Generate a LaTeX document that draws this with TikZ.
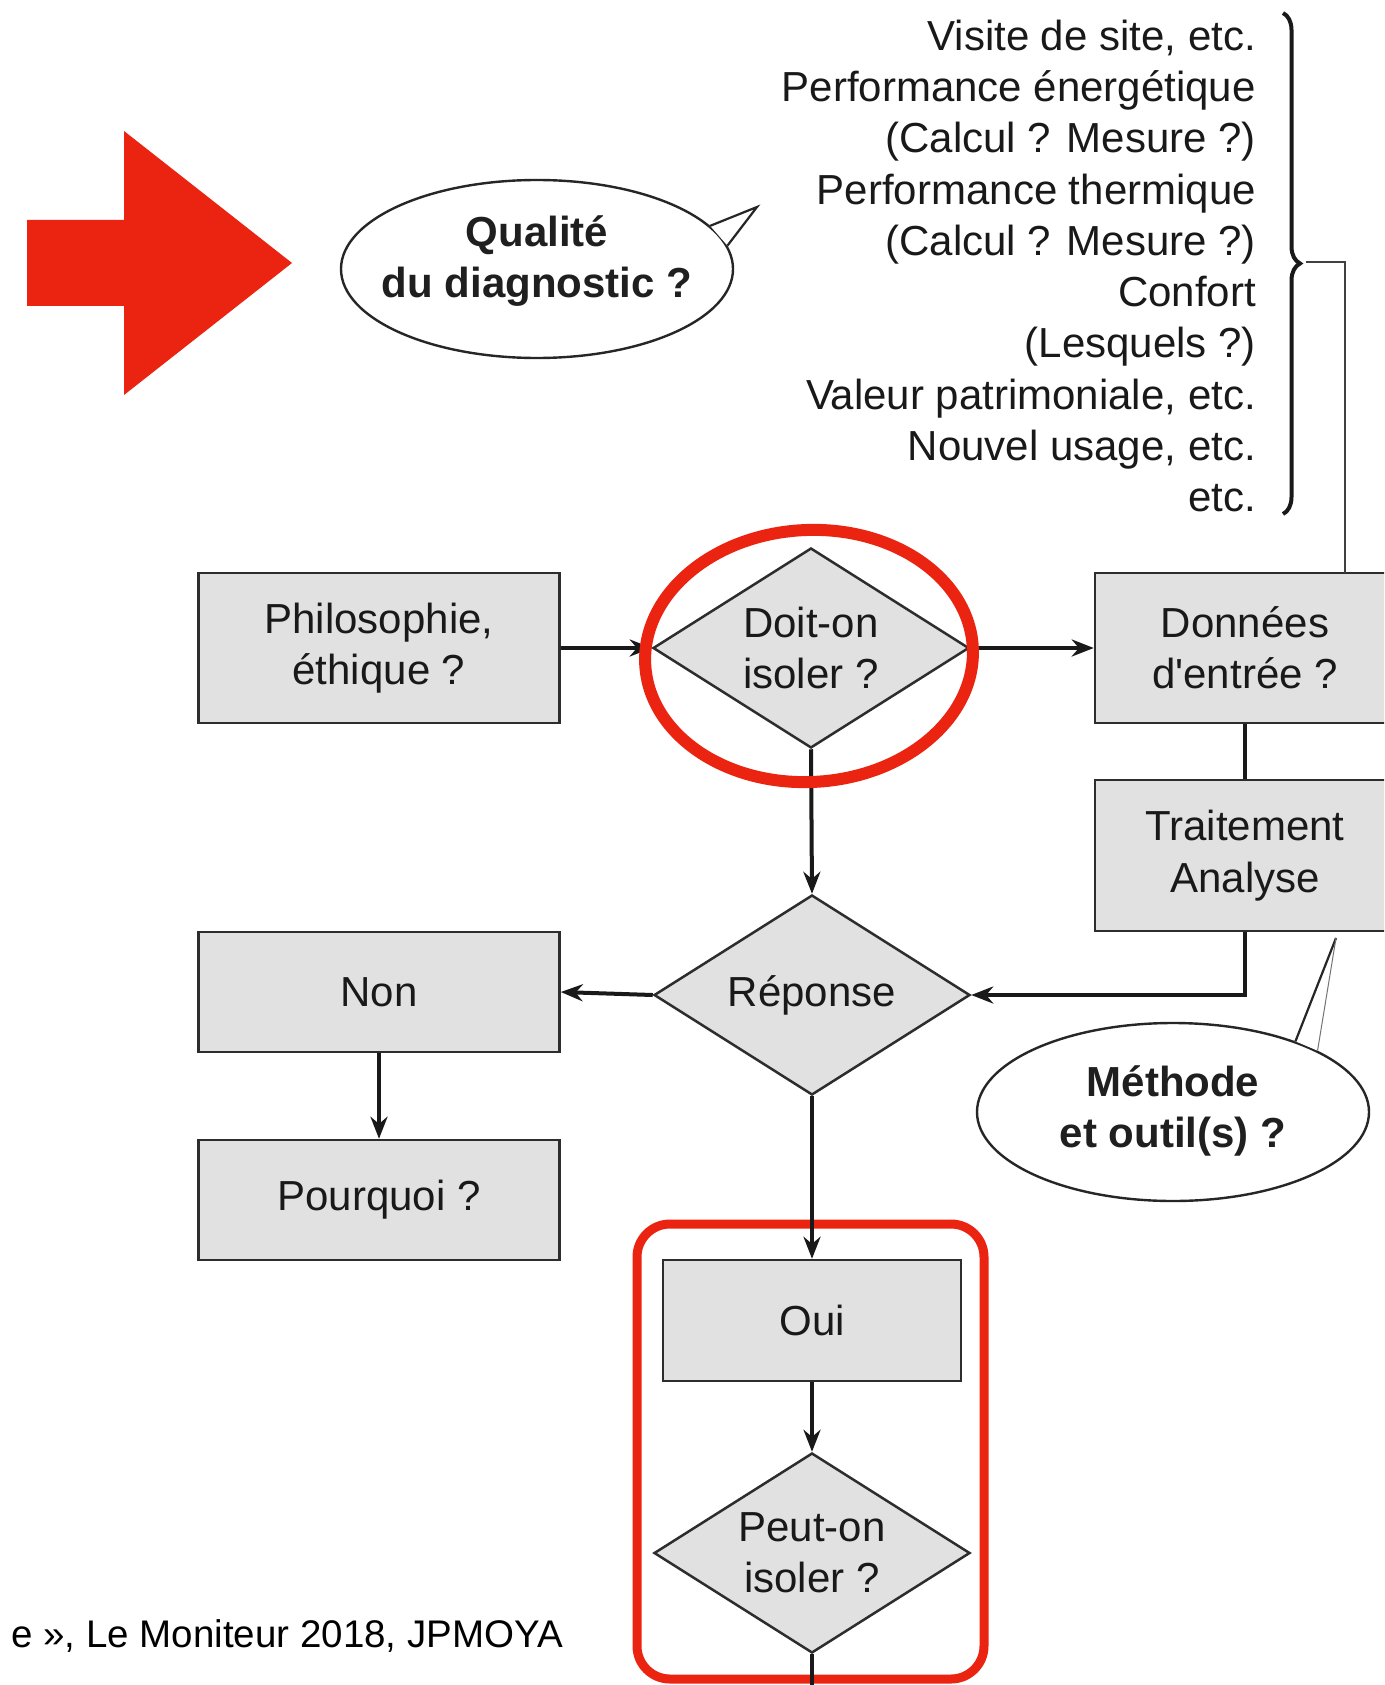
\documentclass[tikz,border=0pt]{standalone}
\usepackage{fontspec}
\setmainfont{Liberation Sans}[Ligatures=TeXOff]
\usetikzlibrary{shapes.geometric,arrows.meta,decorations.pathreplacing}
\definecolor{boxfill}{RGB}{225,225,225}
\definecolor{boxline}{RGB}{45,45,45}
\definecolor{redmark}{RGB}{234,36,16}
\newcommand{\diagfont}{\fontsize{42}{51.3}\selectfont}
\begin{document}
\begin{tikzpicture}[x=1pt,y=-1pt,
  box/.style={draw=boxline, fill=boxfill, line width=2.5pt, minimum width=361pt,
    minimum height=150pt, align=center, font=\diagfont, inner sep=0pt, text=black!90},
  dia/.style={shape=diamond, draw=boxline, fill=boxfill, line width=2.5pt, aspect=1.6,
    minimum width=316pt, minimum height=200pt, inner sep=0pt, align=center,
    font=\diagfont, text=black!90},
  bubble/.style={ellipse, draw=black!85, fill=white, line width=2.4pt,
    minimum width=392pt, minimum height=178pt, inner sep=0pt},
  btext/.style={align=center, font=\diagfont\bfseries, inner sep=0pt, text=black!88},
  arr/.style={line width=4pt, draw=black!90, -{Stealth[length=22pt,width=17pt]}},
  plain/.style={line width=4pt, draw=black!90},
  thin/.style={line width=2.5pt, draw=black!75},
  tail/.style={line width=2.2pt, draw=black!85}]
\useasboundingbox (0,0) rectangle (1384,1685);
\clip (0,0) rectangle (1384,1685);
\fill[white] (0,0) rectangle (1384,1685);

% red arrow
\fill[redmark] (27,220) -- (124,220) -- (124,131) -- (292,263) -- (124,395)
  -- (124,306) -- (27,306) -- cycle;

% list of criteria
\node[anchor=east, align=right, font=\diagfont, inner sep=0pt, text=black!90] (list) at (1256,266)
  {Visite de site, etc.\\Performance énergétique\\(Calcul ? Mesure ?)\\Performance thermique\\(Calcul ? Mesure ?)\\Confort\\(Lesquels ?)\\Valeur patrimoniale, etc.\\Nouvel usage, etc.\\etc.};

% brace
\coordinate (bt) at (1283,13);
\coordinate (bb) at (1283,514);
\draw[decorate, decoration={brace, amplitude=17pt}, line width=4pt, black!90] (bt) -- (bb);
\coordinate (btip) at (1306,262);

% speech bubble 1
\node[bubble] (qual) at (537,269) {};
\coordinate (qtip) at (757,207);
\fill[white] (qual.14.5) -- (qtip) -- (qual.7.6) -- cycle;
\draw[tail] (qual.14.5) -- (qtip) -- (qual.7.6);
\node[btext] (qualt) at (537,261) {Qualité\\du diagnostic ?};

% flow nodes
\node[box] (philo) at (379,648) {Philosophie,\\éthique ?};
\node[dia] (doit) at (811,648) {Doit-on\\isoler ?};
\node[box, minimum width=300pt] (don) at (1245,648) {Données\\d'entrée ?};
\node[box, minimum width=300pt, minimum height=151pt] (trait) at (1245,855.5) {Traitement\\Analyse};
\node[dia] (rep) at (812,995) {Réponse};
\node[box, minimum height=120pt] (non) at (379,992) {Non};
\node[box, minimum height=120pt] (pq) at (379,1200) {Pourquoi ?};
\node[box, minimum width=298pt, minimum height=121pt] (oui) at (812,1320.5) {Oui};
\node[dia] (peut) at (812,1553) {Peut-on\\isoler ?};

% brace to Donnees
\coordinate (dtop) at (1345,573);
\draw[thin] (btip) -| (dtop);

% red frame
\node[draw=redmark, line width=9pt, rounded corners=33pt, minimum width=347pt,
  minimum height=455pt, inner sep=0pt] (frame) at (810.5,1451.5) {};

% connectors
\draw[arr] (philo.east) -- (doit.west);
\draw[arr] (doit.east) -- (don.west);
\draw[arr] (doit.south) -- (rep.north);
\draw[plain] (don.south) -- (trait.north);
\draw[arr] (trait.south) |- (rep.east);
\draw[arr] (rep.west) -- (non.east);
\draw[arr] (non.south) -- (pq.north);
\draw[arr] (rep.south) -- (oui.north);
\draw[arr] (oui.south) -- (peut.north);
\coordinate (bottom) at (812,1690);
\draw[plain] (peut.south) -- (bottom);

% speech bubble 2
\node[bubble] (meth) at (1173,1112) {};
\coordinate (mtip) at (1336,938);
\fill[white] (meth.30.3) -- (mtip) -- (meth.23.2) -- cycle;
\draw[tail] (meth.30.3) -- (mtip);
\draw[line width=1pt, black!55] (mtip) -- (meth.23.2);
\node[btext] (metht) at (1173,1111) {Méthode\\et outil(s) ?};

% red ring
\node[ellipse, draw=redmark, line width=12pt, minimum width=328pt, minimum height=252pt,
  inner sep=0pt, rotate=3] (ring) at (809,656) {};

% source line
\node[anchor=east, font=\fontsize{38.5}{46}\selectfont, inner sep=0pt] (src) at (563,1636)
  {e », Le Moniteur 2018, JPMOYA};
\end{tikzpicture}
\end{document}
